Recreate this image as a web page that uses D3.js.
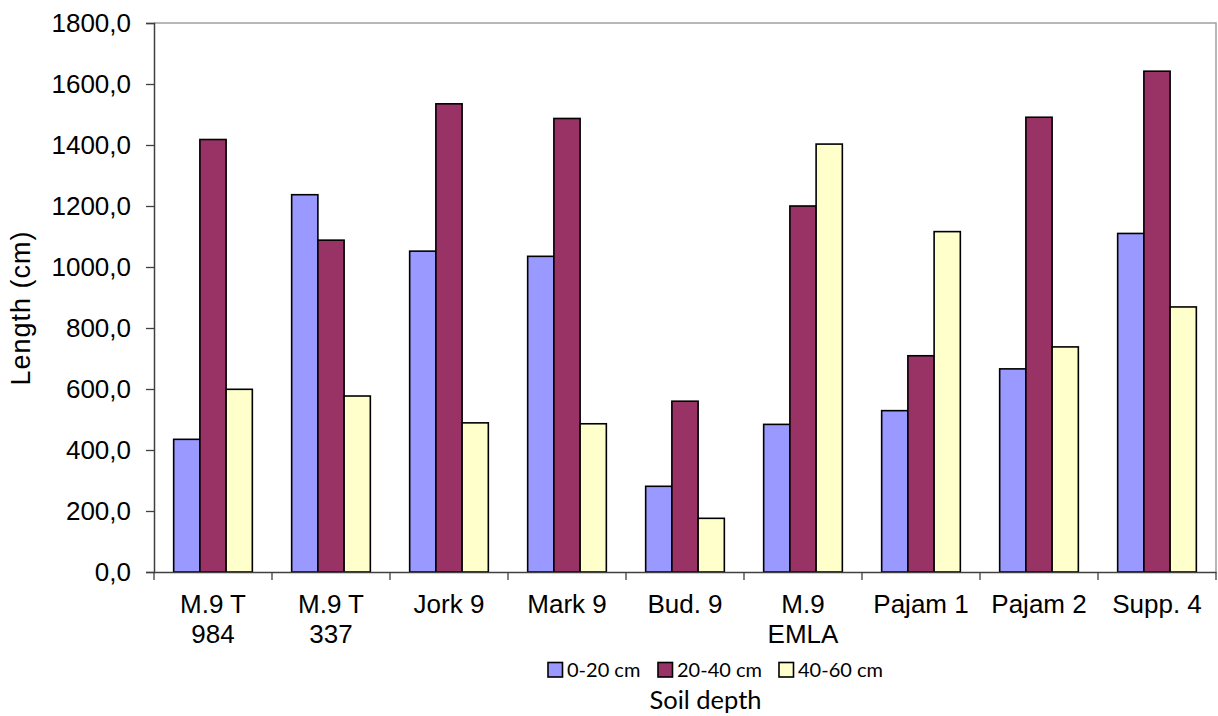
<!DOCTYPE html>
<html><head><meta charset="utf-8">
<script src="https://cdn.jsdelivr.net/npm/d3@7"></script>
<style>html,body{margin:0;padding:0;background:#fff;} svg{display:block;}</style>
</head><body>
<svg id="chart" width="1218" height="716"></svg>
<script>
const categories = [["M.9 T","984"],["M.9 T","337"],["Jork 9"],["Mark 9"],["Bud. 9"],["M.9","EMLA"],["Pajam 1"],["Pajam 2"],["Supp. 4"]];
const seriesNames = ["0-20 cm","20-40 cm","40-60 cm"];
const seriesColors = ["#9999FF","#993366","#FFFFCC"];
const s0_20 = [435,1237,1052,1035,281,484,529,666,1110];
const s20_40 = [1418,1088,1535,1487,560,1200,709,1491,1642];
const s40_60 = [599,577,489,486,176,1403,1116,738,869];
const yTicks = [0,200,400,600,800,1000,1200,1400,1600,1800];
const series = [s0_20,s20_40,s40_60];

const svg = d3.select("#chart");
const L=154, R=1216, T=23, B=572;
const keys = categories.map((c,i)=>i);
const x = d3.scaleBand().domain(keys).range([L,R]).paddingInner(0).paddingOuter(0);
const x1 = d3.scaleBand().domain([0,1,2]).range([0,x.bandwidth()]).paddingInner(0).paddingOuter(0.75);
const y = d3.scaleLinear().domain([0,1800]).range([B,T]);
const AX = "'Liberation Sans',Arial,sans-serif";

// plot border (top & right)
svg.append("path").attr("d",`M${L},${T}H${R}V${B}`).attr("fill","none").attr("stroke","#a0a0a0").attr("stroke-width",1.5);

// bars
const g = svg.append("g");
series.forEach((s,si)=>{
  g.selectAll(null).data(s).enter().append("rect")
    .attr("x",(d,i)=>x(i)+x1(si))
    .attr("y",d=>y(d))
    .attr("width",x1.bandwidth())
    .attr("height",d=>B-y(d))
    .attr("fill",seriesColors[si])
    .attr("stroke","#000").attr("stroke-width",1.6);
});

// y axis
const yAxis = d3.axisLeft(y).tickValues(yTicks).tickSize(8).tickPadding(15)
  .tickFormat(d=>d3.format(".1f")(d).replace(".",","));
const ya = svg.append("g").attr("transform",`translate(${L},0)`).call(yAxis);
ya.select(".domain").attr("stroke","#404040").attr("stroke-width",1.5);
ya.selectAll(".tick line").attr("stroke","#404040").attr("stroke-width",1.3);
ya.selectAll(".tick text").attr("font-family",AX).attr("font-size",26).attr("fill","#000");

// x axis
const xAxis = d3.axisBottom(x).tickSize(0).tickFormat("");
const xa = svg.append("g").attr("transform",`translate(0,${B})`).call(xAxis);
xa.select(".domain").attr("stroke","#404040").attr("stroke-width",1.5);
xa.selectAll(".tick").remove();
const bounds = keys.map(k=>x(k)).concat([R]);
xa.selectAll("line.cb").data(bounds).enter().append("line").attr("class","cb")
  .attr("x1",d=>d).attr("x2",d=>d).attr("y1",0).attr("y2",8).attr("stroke","#404040").attr("stroke-width",1.3);
const labs = svg.append("g").attr("font-family",AX).attr("font-size",26).attr("text-anchor","middle");
categories.forEach((c,i)=>{
  const cx = x(i)+x.bandwidth()/2;
  const t = labs.append("text").attr("x",cx).attr("y",613);
  c.forEach((line,j)=>t.append("tspan").attr("x",cx).attr("dy",j?30:0).text(line));
});

// y title
svg.append("text").attr("transform",`translate(30,308) rotate(-90)`).attr("text-anchor","middle")
  .attr("font-family",AX).attr("font-size",27).attr("letter-spacing",1).text("Length (cm)");

// legend
const leg = svg.append("g").attr("font-family","Lato,'Open Sans',sans-serif").attr("font-size",20);
const legX = [548,658,779];
seriesNames.forEach((n,i)=>{
  leg.append("rect").attr("x",legX[i]).attr("y",662.5).attr("width",14.5).attr("height",14.5)
    .attr("fill",seriesColors[i]).attr("stroke","#000").attr("stroke-width",1.6);
  leg.append("text").attr("x",legX[i]+19).attr("y",677).text(n);
});
svg.append("text").attr("x",705.5).attr("y",709).attr("text-anchor","middle")
  .attr("font-family","Lato,'Open Sans',sans-serif").attr("font-size",25.5).text("Soil depth");
</script>
</body></html>
